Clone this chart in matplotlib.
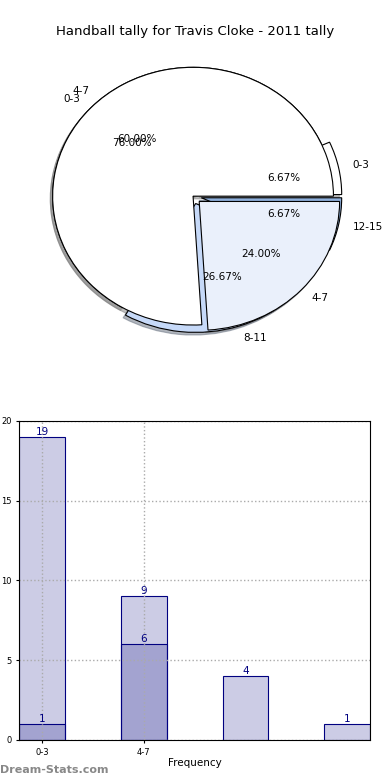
import matplotlib
matplotlib.use("Agg")
import matplotlib.pyplot as plt

# tallies per interval
labels_a = ["0-3", "4-7", "8-11", "12-15"]
values_a = [1, 9, 4, 1]
labels_b = ["0-3", "4-7"]
values_b = [19, 6]

bar_labels = ["0-3", "4-7", "8-11", "12-15"]
bar_light = [19, 9, 4, 1]
bar_dark = [1, 6]

pie_colors = ["white", "#eaf0fb", "#c6d9f8", "#8fb0dc"]

fig = plt.figure(figsize=(3.9, 7.8), dpi=100)
fig.suptitle("Handball tally for Travis Cloke - 2011 tally", fontsize=9.5, y=0.968)

# top: two pies drawn on the same axes
ax1 = fig.add_axes([0.045, 0.542, 0.9, 0.413])
edge = {"edgecolor": "black", "linewidth": 0.8}
shad = {"ox": -0.012, "oy": -0.015, "shade": 0.5}
ax1.pie(values_a, labels=labels_a, colors=["white", "white", pie_colors[2], pie_colors[3]],
        explode=[0.06, 0.0, 0.06, 0.06],
        autopct="%1.2f%%", shadow=shad, wedgeprops=edge,
        textprops={"fontsize": 7.5})
ax1.pie(values_b, labels=labels_b, colors=pie_colors[:2], explode=[0.0, 0.06],
        autopct="%1.2f%%", shadow=shad, wedgeprops=edge,
        textprops={"fontsize": 7.5})
ax1.set_aspect("auto")
ax1.set_xlim(-1.25, 1.25)
ax1.set_ylim(-1.25, 1.25)
ax1.axis("off")

# bottom: overlapping bars
ax2 = fig.add_axes([0.049, 0.0513, 0.9, 0.409])
w = 0.45
xs = range(len(bar_light))
bars1 = ax2.bar(xs, bar_light, w, color=(0, 0, 0.5, 0.2), edgecolor="navy", linewidth=0.8)
xs2 = range(len(bar_dark))
bars2 = ax2.bar(xs2, bar_dark, w, color=(0, 0, 0.5, 0.2), edgecolor="navy", linewidth=0.8)
for b, v in zip(bars1, bar_light):
    ax2.text(b.get_x() + w / 2, v + 0.02, str(v), ha="center", va="bottom",
             color="navy", fontsize=7.5)
for b, v in zip(bars2, bar_dark):
    ax2.text(b.get_x() + w / 2, v + 0.02, str(v), ha="center", va="bottom",
             color="navy", fontsize=7.5)

ax2.set_xlim(-0.225, 3.225)
ax2.set_ylim(0, 20)
ax2.set_yticks([0, 5, 10, 15, 20])
ax2.set_xticks([0, 1])
ax2.set_xticklabels(bar_labels[:2])
ax2.tick_params(labelsize=6, length=2)
ax2.grid(True, linestyle=":", color="#aaaaaa", linewidth=1)
ax2.set_axisbelow(False)
for sp in ax2.spines.values():
    sp.set_zorder(3)
ax2.set_xlabel("Frequency", fontsize=7.5, labelpad=1)
ax2.set_ylabel("Stat Interval", fontsize=7.5, labelpad=3)

fig.text(0.0, 0.013, "Dream-Stats.com", fontsize=8, color="#888888",
         fontweight="bold", ha="left", va="center")

fig.savefig("out.png", dpi=100)
